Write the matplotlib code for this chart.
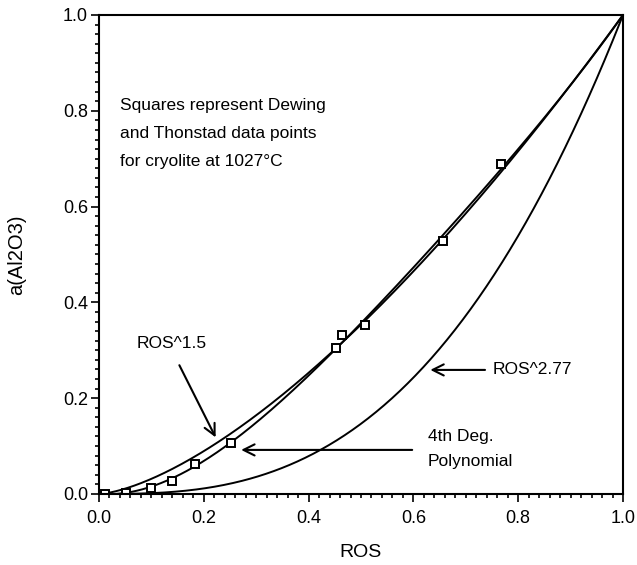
import numpy as np
import matplotlib
matplotlib.use("Agg")
import matplotlib.pyplot as plt
from matplotlib.ticker import MultipleLocator

plt.rcParams['font.family'] = ['Liberation Sans', 'DejaVu Sans']

# Dewing and Thonstad data points
ros_data = [0.012, 0.052, 0.100, 0.139, 0.184, 0.251, 0.452, 0.464, 0.508, 0.657, 0.768]
a_data = [0.0005, 0.002, 0.012, 0.028, 0.062, 0.107, 0.305, 0.332, 0.353, 0.529, 0.689]

exp_low = 1.5
exp_high = 2.77

note_lines = ["Squares represent Dewing", "and Thonstad data points", "for cryolite at 1027°C"]

# 4th degree polynomial through the data, pinned at the two ends
fit_x = np.concatenate([[0.0], ros_data, [1.0]])
fit_y = np.concatenate([[0.0], a_data, [1.0]])
weights = np.ones(len(fit_x))
weights[0] = weights[-1] = 20
poly = np.polyfit(fit_x, fit_y, 4, w=weights)

ros = np.linspace(0, 1, 400)

fig = plt.figure(figsize=(6.37, 5.65), dpi=100)
ax = fig.add_axes([0.1554, 0.1257, 0.8226, 0.8478])

ax.plot(ros, ros ** exp_low, color='black', lw=1.4)
ax.plot(ros, ros ** exp_high, color='black', lw=1.4)
ax.plot(ros, np.clip(np.polyval(poly, ros), 0, None), color='black', lw=1.4)
ax.plot(ros_data, a_data, 's', ms=5.5, mfc='white', mec='black', mew=1.4)

ax.set_xlim(0, 1)
ax.set_ylim(0, 1)
ax.xaxis.set_major_locator(MultipleLocator(0.2))
ax.yaxis.set_major_locator(MultipleLocator(0.2))
ax.xaxis.set_minor_locator(MultipleLocator(0.02))
ax.yaxis.set_minor_locator(MultipleLocator(0.02))
ax.xaxis.set_major_formatter(plt.FormatStrFormatter('%.1f'))
ax.yaxis.set_major_formatter(plt.FormatStrFormatter('%.1f'))
ax.tick_params(which='both', direction='out', top=False, right=False, width=1.2, color='black')
ax.tick_params(which='major', length=5.5)
ax.tick_params(which='minor', length=3)
ax.tick_params(axis='x', which='major', labelsize=13, pad=6)
ax.tick_params(axis='y', which='major', labelsize=13, pad=2.5)
for sp in ax.spines.values():
    sp.set_linewidth(1.5)

ax.set_xlabel('ROS', fontsize=14)
ax.xaxis.set_label_coords(0.5, -0.105)
ax.set_ylabel('a(Al2O3)', fontsize=14.5)
ax.yaxis.set_label_coords(-0.14, 0.5)

for i, line in enumerate(note_lines):
    ax.text(0.04, 0.81 - i * 0.058, line, fontsize=12.5, va='center', ha='left')

ax.annotate('', xy=(0.225, 0.113), xytext=(0.151, 0.274),
            arrowprops=dict(arrowstyle='->', lw=1.5, color='black', mutation_scale=20))
ax.text(0.139, 0.315, 'ROS^1.5', fontsize=12.5, ha='center', va='center')

ax.annotate('', xy=(0.266, 0.092), xytext=(0.603, 0.092),
            arrowprops=dict(arrowstyle='->', lw=1.5, color='black', mutation_scale=20))
ax.text(0.627, 0.119, '4th Deg.', fontsize=12.5, ha='left', va='center')
ax.text(0.627, 0.067, 'Polynomial', fontsize=12.5, ha='left', va='center')

ax.annotate('', xy=(0.627, 0.259), xytext=(0.742, 0.259),
            arrowprops=dict(arrowstyle='->', lw=1.5, color='black', mutation_scale=20))
ax.text(0.752, 0.259, 'ROS^2.77', fontsize=12.5, ha='left', va='center')

fig.savefig('out.png', dpi=100)
